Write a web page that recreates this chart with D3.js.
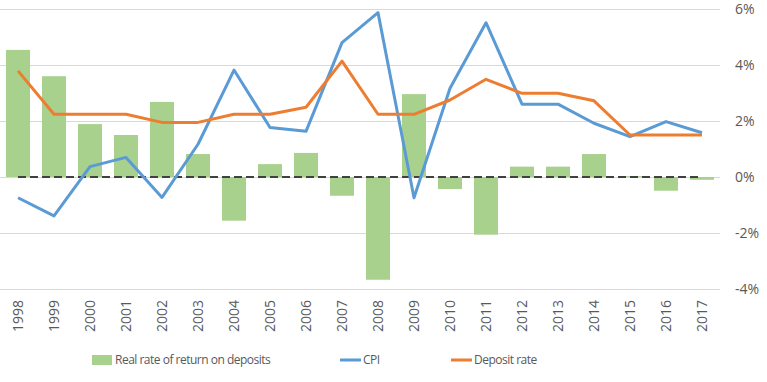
<!DOCTYPE html>
<html>
<head>
<meta charset="utf-8">
<script src="https://cdn.jsdelivr.net/npm/d3@7"></script>
<style>
  body { margin: 0; background: #fff; }
  text { font-family: "Open Sans", sans-serif; fill: #595959; }
</style>
</head>
<body>
<div id="chart"></div>
<script>
var years = ['1998', '1999', '2000', '2001', '2002', '2003', '2004', '2005', '2006', '2007',
    '2008', '2009', '2010', '2011', '2012', '2013', '2014', '2015', '2016', '2017'];
var realRate = [4.54, 3.6, 1.89, 1.5, 2.68, 0.82, -1.56, 0.46, 0.86, -0.67,
    -3.67, 2.96, -0.43, -2.06, 0.37, 0.37, 0.82, 0.03, -0.49, -0.1];
var cpi = [-0.74, -1.39, 0.37, 0.7, -0.73, 1.17, 3.82, 1.77, 1.63, 4.8,
    5.87, -0.74, 3.17, 5.51, 2.6, 2.6, 1.92, 1.44, 1.98, 1.58];
var depositRate = [3.79, 2.24, 2.24, 2.24, 1.95, 1.95, 2.24, 2.24, 2.49, 4.14,
    2.24, 2.24, 2.75, 3.49, 2.99, 2.99, 2.72, 1.5, 1.5, 1.5];
var yTicks = [-4, -2, 0, 2, 4, 6];
var legendNames = ['Real rate of return on deposits', 'CPI', 'Deposit rate'];

var width = 767, height = 382;
var plotW = 720, plotTop = 9, plotBottom = 289;

var svg = d3.select('#chart')
    .append('svg')
    .attr('width', width)
    .attr('height', height);

var x = d3.scaleBand()
    .domain(years)
    .range([0, plotW])
    .paddingInner(1 / 3)
    .paddingOuter(1 / 6);

var y = d3.scaleLinear()
    .domain([-4, 6])
    .range([plotBottom, plotTop]);

var cx = d => x(d) + x.bandwidth() / 2;

// gridlines + right axis labels
var yAxis = d3.axisRight(y)
    .tickValues(yTicks)
    .tickSize(-plotW)
    .tickPadding(15)
    .tickFormat(d => d + '%');

svg.append('g')
    .attr('class', 'axis y')
    .attr('transform', `translate(${plotW}, 0)`)
    .call(yAxis)
    .call(g => g.select('.domain').remove())
    .call(g => g.selectAll('line').attr('stroke', '#d9d9d9'))
    .call(g => g.selectAll('text').attr('font-size', 14).style('fill', '#595959'));

// bars
svg.append('g')
    .selectAll('rect')
    .data(years)
    .enter()
    .append('rect')
    .attr('x', d => x(d))
    .attr('width', x.bandwidth())
    .attr('y', (d, i) => y(Math.max(0, realRate[i])))
    .attr('height', (d, i) => Math.abs(y(realRate[i]) - y(0)))
    .attr('fill', '#a9d18e');

// zero dashed line
var zeroLine = d3.line()
    .x(d => cx(d))
    .y(() => y(0));

svg.append('path')
    .datum(years)
    .attr('d', zeroLine)
    .attr('fill', 'none')
    .attr('stroke', '#404040')
    .attr('stroke-width', 2)
    .attr('stroke-dasharray', '8,4');

var line = d3.line()
    .x(d => cx(d.year))
    .y(d => y(d.v));

svg.append('path')
    .datum(years.map((d, i) => ({year: d, v: cpi[i]})))
    .attr('d', line)
    .attr('fill', 'none')
    .attr('stroke', '#5b9bd5')
    .attr('stroke-width', 3)
    .attr('stroke-linejoin', 'round');

svg.append('path')
    .datum(years.map((d, i) => ({year: d, v: depositRate[i]})))
    .attr('d', line)
    .attr('fill', 'none')
    .attr('stroke', '#ed7d31')
    .attr('stroke-width', 3)
    .attr('stroke-linejoin', 'round');

// x labels, rotated
svg.append('g')
    .attr('class', 'axis x')
    .attr('transform', `translate(0, ${plotBottom})`)
    .call(d3.axisBottom(x).tickSize(0))
    .call(g => g.select('.domain').remove())
    .call(g => g.selectAll('text')
        .attr('font-size', 14)
        .style('fill', '#595959')
        .attr('transform', 'rotate(-90)')
        .attr('x', -11)
        .attr('y', 0)
        .attr('dy', '0.35em')
        .style('text-anchor', 'end'));

// legend
var legend = svg.append('g').attr('transform', 'translate(0, 360)');
var legendX = [92, 340, 451];

legend.append('rect')
    .attr('x', legendX[0]).attr('y', -5)
    .attr('width', 20).attr('height', 10)
    .attr('fill', '#a9d18e');
legend.append('line')
    .attr('x1', legendX[1]).attr('x2', legendX[1] + 21)
    .attr('stroke', '#5b9bd5').attr('stroke-width', 3);
legend.append('line')
    .attr('x1', legendX[2]).attr('x2', legendX[2] + 21)
    .attr('stroke', '#ed7d31').attr('stroke-width', 3);

legend.selectAll('text.leg')
    .data(legendNames)
    .enter()
    .append('text')
    .attr('class', 'leg')
    .attr('x', (d, i) => legendX[i] + 23)
    .attr('dy', '0.35em')
    .attr('font-size', 12)
    .attr('letter-spacing', -0.5)
    .text(d => d);
</script>
</body>
</html>
